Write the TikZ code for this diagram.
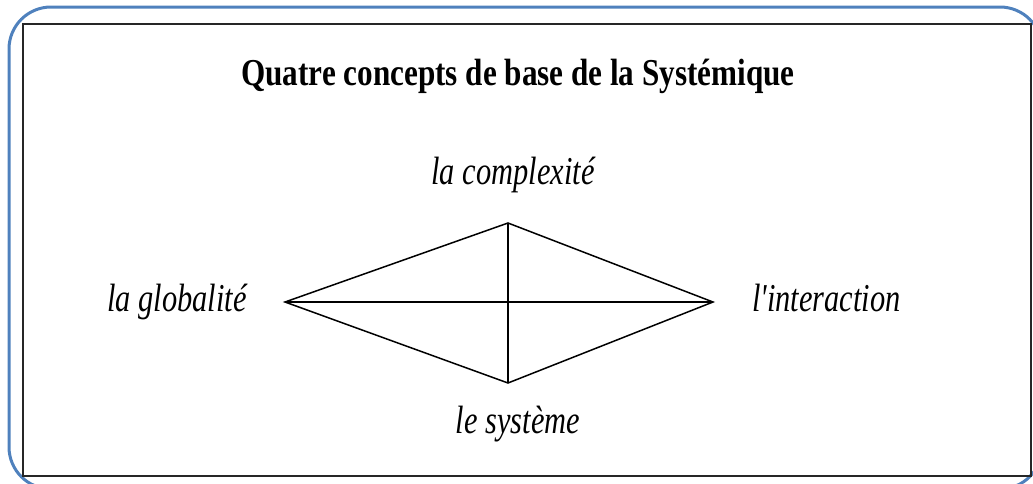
\documentclass[tikz,border=0pt]{standalone}
\usepackage{fontspec}
\setmainfont{Liberation Serif}
\usepackage{graphicx}
\usepackage{xcolor}
\usepackage{tikz}
\usetikzlibrary{positioning}
\definecolor{cadreblue}{HTML}{4F81BD}
\newcommand{\serre}[2]{\scalebox{#1}[1]{#2}}
\tikzstyle{concept} = [inner sep=0pt, text height=27.5pt, text depth=8.7pt, font=\fontsize{39.5}{42}\selectfont\itshape]
\tikzstyle{titre} = [inner sep=0pt, anchor=base, font=\fontsize{38}{40}\selectfont\bfseries]
\tikzstyle{edge} = [line width=1.5pt, line join=miter]

\begin{document}
\begin{tikzpicture}[x=1pt, y=-1pt]
\useasboundingbox (0,0) rectangle (1033,483);
\clip (0,0) rectangle (1033,483);

% Frames
\draw[cadreblue, line width=3pt, rounded corners=42pt] (9,7) rectangle (1042,489);
\draw[black!85, line width=2.5pt] (23,24) rectangle (1031,476);

% Title
\node[titre] (title) at (518,85) {\serre{0.82}{Quatre concepts de base de la Systémique}};

% Diamond corners
\coordinate (glob) at (285,302);
\coordinate (inter) at (713,302);
\coordinate (comp) at (508,223);
\coordinate (syst) at (508,383);

% Concepts
\node[concept, above=29.3pt of comp, xshift=5pt] (complabel) {\serre{0.77}{la complexité}};
\node[concept, below=22.5pt of syst, xshift=10pt] (systlabel) {\serre{0.77}{le système}};
\node[concept, left=38pt of glob] (globlabel) {\serre{0.77}{la globalité}};
\node[concept, right=39pt of inter] (interlabel) {\serre{0.77}{l\textquotesingle interaction}};

% Links
\draw[edge] (glob) -- (comp) -- (inter) -- (syst) -- cycle;
\draw[edge] (glob) -- (inter);
\draw[edge] (comp) -- (syst);

\end{tikzpicture}
\end{document}
